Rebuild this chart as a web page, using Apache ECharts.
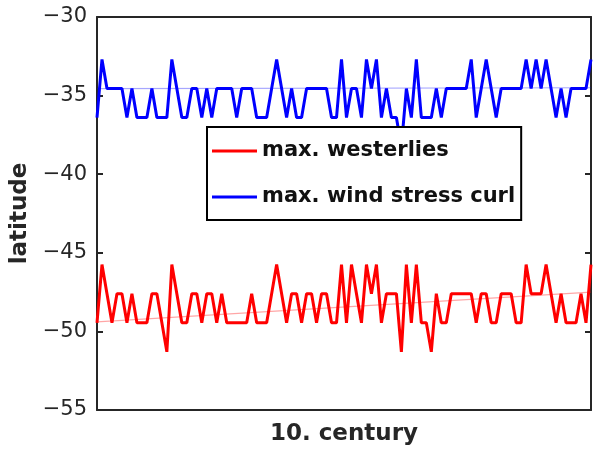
<!DOCTYPE html>
<html>
<head>
<meta charset="utf-8">
<title>latitude of max. westerlies / wind stress curl</title>
<script src="https://cdn.jsdelivr.net/npm/echarts@6/dist/echarts.min.js"></script>
<style>
    html, body { margin: 0; padding: 0; background: #fff; }
    #chart { width: 594px; height: 457px; }
</style>
</head>
<body>
<div id="chart"></div>
<script>
// years of the 10th century (x axis, no labels shown)
let years = Array.from({length: 100}, (_, i) => 901 + i);

// latitude of the maximum westerlies, one value per year
let westerlies = [
    -49.45, -45.75, -47.6, -49.45, -47.6, -47.6, -49.45, -47.6, -49.45, -49.45,
    -49.45, -47.6, -47.6, -49.45, -51.3, -45.75, -47.6, -49.45, -49.45, -47.6,
    -47.6, -49.45, -47.6, -47.6, -49.45, -47.6, -49.45, -49.45, -49.45, -49.45,
    -49.45, -47.6, -49.45, -49.45, -49.45, -47.6, -45.75, -47.6, -49.45, -47.6,
    -47.6, -49.45, -47.6, -47.6, -49.45, -47.6, -47.6, -49.45, -49.45, -45.75,
    -49.45, -45.75, -47.6, -49.45, -45.75, -47.6, -45.75, -49.45, -47.6, -47.6,
    -47.6, -51.3, -45.75, -49.45, -45.75, -49.45, -49.45, -51.3, -47.6, -49.45,
    -49.45, -47.6, -47.6, -47.6, -47.6, -47.6, -49.45, -47.6, -47.6, -49.45,
    -49.45, -47.6, -47.6, -47.6, -49.45, -49.45, -45.75, -47.6, -47.6, -47.6,
    -45.75, -47.6, -49.45, -47.6, -49.45, -49.45, -49.45, -47.6, -49.45, -45.75
];

// latitude of the maximum wind stress curl
let curl = [
    -36.4, -32.7, -34.55, -34.55, -34.55, -34.55, -36.4, -34.55, -36.4, -36.4,
    -36.4, -34.55, -36.4, -36.4, -36.4, -32.7, -34.55, -36.4, -36.4, -34.55,
    -34.55, -36.4, -34.55, -36.4, -34.55, -34.55, -34.55, -34.55, -36.4, -34.55,
    -34.55, -34.55, -36.4, -36.4, -36.4, -34.55, -32.7, -34.55, -36.4, -34.55,
    -36.4, -36.4, -34.55, -34.55, -34.55, -34.55, -34.55, -36.4, -36.4, -32.7,
    -36.4, -34.55, -34.55, -36.4, -32.7, -34.55, -32.7, -36.4, -34.55, -36.4,
    -36.4, -38.25, -34.55, -36.4, -32.7, -36.4, -36.4, -36.4, -34.55, -36.4,
    -34.55, -34.55, -34.55, -34.55, -34.55, -32.7, -36.4, -34.55, -32.7, -34.55,
    -36.4, -34.55, -34.55, -34.55, -34.55, -34.55, -32.7, -34.55, -32.7, -34.55,
    -32.7, -34.55, -36.4, -34.55, -36.4, -34.55, -34.55, -34.55, -34.55, -32.7
];

// linear trends, start and end of the century
let westerliesTrend = [-49.4, -47.5];
let curlTrend = [-34.55, -34.5];

let yTicks = [-55, -50, -45, -40, -35, -30];

let axisColor = '#262626';
let fontName = 'DejaVu Sans';

function pairs(values){
    return values.map((v, i) => [years[i], v]);
}

function trendPairs(trend){
    return [[years[0], trend[0]], [years[years.length - 1], trend[1]]];
}

let myChart = echarts.init(document.getElementById('chart'));

let option = {
    animation: false,
    backgroundColor: '#fff',
    grid: {
        left: 97,
        right: 3,
        top: 17,
        bottom: 47
    },
    legend: {
        data: ['max. westerlies', 'max. wind stress curl'],
        orient: 'vertical',
        left: 207,
        top: 127,
        padding: [12, 6, 11, 5],
        itemGap: 22,
        itemWidth: 45,
        itemHeight: 3,
        icon: 'rect',
        backgroundColor: '#fff',
        borderColor: '#000',
        borderWidth: 2,
        borderRadius: 0,
        textStyle: {
            fontFamily: fontName,
            fontWeight: 'bold',
            fontSize: 21,
            lineHeight: 24,
            color: '#111'
        }
    },
    xAxis: [
        {
            type: 'value',
            min: years[0],
            max: years[years.length - 1],
            name: '10. century',
            nameLocation: 'middle',
            nameGap: 13,
            nameTextStyle: {
                fontFamily: fontName,
                fontWeight: 'bold',
                fontSize: 23,
                color: axisColor
            },
            axisLine: { show: true, lineStyle: { color: axisColor, width: 2 } },
            axisTick: { show: false },
            axisLabel: { show: false },
            splitLine: { show: false }
        },
        {
            // top edge of the box
            type: 'value',
            position: 'top',
            min: years[0],
            max: years[years.length - 1],
            axisLine: { show: true, onZero: false, lineStyle: { color: axisColor, width: 2 } },
            axisTick: { show: false },
            axisLabel: { show: false },
            splitLine: { show: false }
        }
    ],
    yAxis: [
        {
            type: 'value',
            min: yTicks[0],
            max: yTicks[yTicks.length - 1],
            interval: 5,
            name: 'latitude',
            nameLocation: 'middle',
            nameGap: 63,
            nameTextStyle: {
                fontFamily: fontName,
                fontWeight: 'bold',
                fontSize: 23,
                color: axisColor
            },
            axisLine: { show: true, lineStyle: { color: axisColor, width: 2 } },
            axisTick: { show: true, inside: true, length: 6, lineStyle: { color: axisColor, width: 2 } },
            axisLabel: {
                margin: 10,
                fontFamily: fontName,
                fontSize: 21,
                color: axisColor,
                formatter: v => String(v).replace('-', '\u2212')
            },
            splitLine: { show: false }
        },
        {
            // right edge of the box, ticks only
            type: 'value',
            position: 'right',
            min: yTicks[0],
            max: yTicks[yTicks.length - 1],
            interval: 5,
            axisLine: { show: true, lineStyle: { color: axisColor, width: 2 } },
            axisTick: { show: true, inside: true, length: 6, lineStyle: { color: axisColor, width: 2 } },
            axisLabel: { show: false },
            splitLine: { show: false }
        }
    ],
    series: [
        {
            name: 'max. westerlies',
            type: 'line',
            data: pairs(westerlies),
            symbol: 'none',
            color: '#ff0000',
            lineStyle: { color: '#ff0000', width: 3 },
            z: 3
        },
        {
            name: 'max. wind stress curl',
            type: 'line',
            data: pairs(curl),
            symbol: 'none',
            color: '#0000ff',
            lineStyle: { color: '#0000ff', width: 3 },
            z: 3
        },
        {
            name: 'westerlies trend',
            type: 'line',
            data: trendPairs(westerliesTrend),
            symbol: 'none',
            lineStyle: { color: '#ff0000', width: 1.2, opacity: 0.35 },
            z: 2
        },
        {
            name: 'curl trend',
            type: 'line',
            data: trendPairs(curlTrend),
            symbol: 'none',
            lineStyle: { color: '#0000ff', width: 1.2, opacity: 0.35 },
            z: 2
        }
    ]
};

myChart.setOption(option);
</script>
</body>
</html>
